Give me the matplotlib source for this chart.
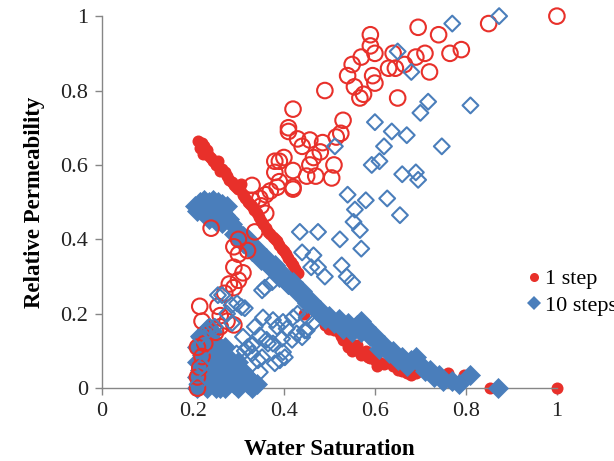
import matplotlib
matplotlib.use("Agg")
import matplotlib.pyplot as plt
from matplotlib.lines import Line2D

RED = "#e8302a"
BLUE = "#4a7ebb"

# 1 step, oil relative permeability (filled circles)
sw_1step_oil = [0.212, 0.215, 0.22, 0.222, 0.225, 0.23, 0.235, 0.24, 0.25, 0.255, 0.26, 0.27,
                0.275, 0.28, 0.29, 0.30, 0.305, 0.31, 0.32, 0.33, 0.34, 0.35, 0.36, 0.37,
                0.38, 0.39, 0.40, 0.41, 0.42, 0.43, 0.445, 0.49, 0.50, 0.52, 0.53, 0.54,
                0.55, 0.56, 0.57, 0.58, 0.59, 0.60, 0.61, 0.62, 0.64, 0.66, 0.67, 0.68,
                0.71, 0.74, 0.75, 0.76, 0.77, 0.795, 0.853, 1.0,
                0.218, 0.228, 0.245, 0.265, 0.285, 0.295, 0.315, 0.325, 0.335, 0.345,
                0.355, 0.365, 0.375, 0.385, 0.395, 0.405, 0.415, 0.425, 0.51, 0.525,
                0.545, 0.565, 0.585, 0.595, 0.605, 0.63, 0.65, 0.69, 0.73, 0.765]
kr_1step_oil = [0.665, 0.645, 0.66, 0.63, 0.65, 0.64, 0.625, 0.62, 0.60, 0.61, 0.585, 0.58,
                0.57, 0.56, 0.545, 0.535, 0.55, 0.52, 0.50, 0.49, 0.47, 0.45, 0.43, 0.415,
                0.40, 0.385, 0.37, 0.35, 0.33, 0.31, 0.20, 0.17, 0.16, 0.15, 0.13, 0.11,
                0.10, 0.115, 0.09, 0.10, 0.08, 0.075, 0.07, 0.065, 0.06, 0.045, 0.04, 0.035,
                0.05, 0.03, 0.02, 0.04, 0.015, 0.035, 0.0, 0.0,
                0.655, 0.635, 0.61, 0.59, 0.555, 0.54, 0.51, 0.495, 0.48, 0.46,
                0.44, 0.42, 0.405, 0.395, 0.375, 0.36, 0.34, 0.32, 0.155, 0.14,
                0.12, 0.10, 0.085, 0.09, 0.06, 0.07, 0.05, 0.04, 0.035, 0.025]

# 1 step, water relative permeability (open circles)
sw_1step_water = [0.21, 0.21, 0.215, 0.22, 0.226, 0.21, 0.25, 0.22, 0.26, 0.275, 0.29, 0.26,
                  0.215, 0.255, 0.27, 0.28, 0.29, 0.30, 0.31, 0.29, 0.30, 0.32, 0.29, 0.30,
                  0.336, 0.24, 0.347, 0.33, 0.36, 0.37, 0.385, 0.42, 0.33, 0.39, 0.42, 0.38,
                  0.42, 0.38, 0.39, 0.40, 0.45, 0.47, 0.457, 0.465, 0.505, 0.51, 0.48, 0.485,
                  0.515, 0.44, 0.457, 0.43, 0.41, 0.525, 0.41, 0.53, 0.42, 0.49, 0.555, 0.567,
                  0.575, 0.54, 0.595, 0.60, 0.55, 0.57, 0.59, 0.60, 0.59, 0.63, 0.645, 0.665,
                  0.64, 0.65, 0.69, 0.71, 0.72, 0.695, 0.74, 0.765, 0.79, 0.85, 1.0, 0.36, 0.35]
kr_1step_water = [0.0, 0.03, 0.055, 0.085, 0.12, 0.11, 0.15, 0.18, 0.195, 0.18, 0.17, 0.165,
                  0.22, 0.22, 0.255, 0.28, 0.27, 0.29, 0.31, 0.325, 0.36, 0.37, 0.38, 0.40,
                  0.42, 0.43, 0.51, 0.505, 0.52, 0.53, 0.54, 0.54, 0.545, 0.555, 0.535, 0.58,
                  0.585, 0.61, 0.61, 0.62, 0.57, 0.57, 0.60, 0.62, 0.565, 0.60, 0.635, 0.66,
                  0.675, 0.65, 0.667, 0.67, 0.69, 0.685, 0.70, 0.72, 0.75, 0.80, 0.81, 0.78,
                  0.79, 0.84, 0.84, 0.82, 0.87, 0.89, 0.92, 0.90, 0.95, 0.86, 0.86, 0.87,
                  0.90, 0.78, 0.89, 0.90, 0.85, 0.97, 0.95, 0.90, 0.91, 0.98, 1.0, 0.47, 0.49]

# 10 steps, oil relative permeability (filled diamonds)
sw_10step_oil = [0.205, 0.215, 0.225, 0.235, 0.245, 0.255, 0.265, 0.275, 0.21, 0.225, 0.24,
                 0.255, 0.27, 0.28, 0.235, 0.25, 0.265, 0.285, 0.30, 0.31, 0.32, 0.34, 0.36,
                 0.38, 0.40, 0.42, 0.44, 0.46, 0.48, 0.50, 0.52, 0.54, 0.56, 0.58, 0.60,
                 0.62, 0.64, 0.66, 0.68, 0.70, 0.72, 0.74, 0.33, 0.37, 0.41, 0.45, 0.49,
                 0.53, 0.57, 0.61, 0.65, 0.69, 0.75, 0.77, 0.785, 0.81, 0.87,
                 0.29, 0.31, 0.33, 0.35, 0.37, 0.39, 0.41, 0.43, 0.45, 0.47, 0.49, 0.51,
                 0.53, 0.55, 0.57, 0.59, 0.61, 0.63, 0.67, 0.71, 0.73,
                 0.21, 0.22, 0.23, 0.24, 0.25, 0.26, 0.27, 0.28, 0.29, 0.30, 0.31, 0.32,
                 0.33, 0.215, 0.23, 0.245, 0.26, 0.275, 0.29, 0.31, 0.22, 0.235, 0.25, 0.265,
                 0.28, 0.225, 0.24, 0.255, 0.215, 0.23, 0.245, 0.30, 0.32, 0.27,
                 0.21, 0.21, 0.21, 0.22, 0.24, 0.26, 0.28, 0.30, 0.25, 0.27, 0.29, 0.34,
                 0.22, 0.235, 0.26]
kr_10step_oil = [0.49, 0.50, 0.505, 0.50, 0.505, 0.50, 0.495, 0.49, 0.475, 0.47, 0.48,
                 0.475, 0.465, 0.455, 0.455, 0.45, 0.445, 0.44, 0.42, 0.41, 0.40, 0.375, 0.35,
                 0.33, 0.305, 0.285, 0.26, 0.235, 0.21, 0.195, 0.185, 0.175, 0.17, 0.165, 0.14,
                 0.115, 0.10, 0.085, 0.075, 0.065, 0.05, 0.035, 0.37, 0.325, 0.28, 0.23, 0.19,
                 0.165, 0.18, 0.12, 0.075, 0.085, 0.02, 0.02, 0.01, 0.035, 0.0,
                 0.415, 0.39, 0.37, 0.345, 0.325, 0.30, 0.28, 0.255, 0.235, 0.21, 0.185, 0.175,
                 0.16, 0.15, 0.15, 0.14, 0.105, 0.095, 0.06, 0.045, 0.03,
                 0.0, 0.02, 0.0, 0.03, 0.0, 0.02, 0.0, 0.03, 0.01, 0.0, 0.02, 0.01,
                 0.0, 0.05, 0.06, 0.05, 0.06, 0.05, 0.04, 0.045, 0.09, 0.10, 0.085, 0.09,
                 0.08, 0.12, 0.13, 0.115, 0.14, 0.16, 0.15, 0.07, 0.03, 0.11,
                 0.03, 0.07, 0.11, 0.04, 0.07, 0.035, 0.065, 0.035, 0.10, 0.075, 0.06, 0.01,
                 0.10, 0.025, 0.0]

# 10 steps, water relative permeability (open diamonds)
sw_10step_water = [0.873, 0.77, 0.65, 0.68, 0.717, 0.70, 0.81, 0.637, 0.67, 0.60, 0.62, 0.61,
                   0.593, 0.747, 0.66, 0.69, 0.695, 0.627, 0.58, 0.54, 0.512, 0.556, 0.655,
                   0.553, 0.567, 0.475, 0.435, 0.523, 0.57, 0.44, 0.465, 0.475, 0.527, 0.538,
                   0.55, 0.49, 0.46, 0.45, 0.45, 0.44, 0.358, 0.374, 0.352, 0.264, 0.255,
                   0.285, 0.297, 0.307, 0.314, 0.275, 0.286, 0.248, 0.233, 0.237, 0.215,
                   0.354, 0.376, 0.398, 0.42, 0.43, 0.385, 0.406, 0.428, 0.446, 0.464, 0.336,
                   0.347, 0.362, 0.31, 0.32, 0.33, 0.376, 0.396, 0.418, 0.398, 0.391, 0.343,
                   0.347, 0.296, 0.28, 0.352, 0.402, 0.38, 0.314, 0.33, 0.365,
                   0.21, 0.23, 0.25, 0.27, 0.29, 0.31, 0.33, 0.22, 0.24, 0.26]
kr_10step_water = [1.0, 0.98, 0.905, 0.85, 0.77, 0.74, 0.76, 0.69, 0.68, 0.715, 0.65, 0.61,
                   0.60, 0.65, 0.575, 0.58, 0.56, 0.51, 0.505, 0.52, 0.65, 0.48, 0.465,
                   0.447, 0.425, 0.42, 0.42, 0.40, 0.375, 0.365, 0.357, 0.325, 0.33, 0.30,
                   0.285, 0.30, 0.325, 0.19, 0.155, 0.137, 0.27, 0.285, 0.263, 0.25, 0.25,
                   0.223, 0.228, 0.218, 0.215, 0.20, 0.175, 0.165, 0.155, 0.165, 0.137,
                   0.19, 0.183, 0.178, 0.19, 0.20, 0.165, 0.16, 0.147, 0.155, 0.175, 0.165,
                   0.142, 0.13, 0.138, 0.11, 0.093, 0.12, 0.133, 0.13, 0.097, 0.075, 0.075,
                   0.043, 0.093, 0.067, 0.083, 0.083, 0.067, 0.10, 0.115, 0.12,
                   0.01, 0.03, 0.02, 0.04, 0.02, 0.03, 0.01, 0.06, 0.08, 0.10]

ticks = [0, 0.2, 0.4, 0.6, 0.8, 1]
tick_labels = ["0", "0.2", "0.4", "0.6", "0.8", "1"]

plt.rcParams["font.family"] = ["Liberation Serif", "DejaVu Serif"]

fig = plt.figure(figsize=(6.14, 4.61), dpi=100)
ax = fig.add_axes([0.166, 0.158, 0.741, 0.807])

ax.scatter(sw_1step_oil, kr_1step_oil, s=75, marker="o", color=RED,
           linewidths=0, clip_on=False, zorder=2)
ax.scatter(sw_10step_oil, kr_10step_oil, s=115, marker="D", color=BLUE,
           linewidths=0, clip_on=False, zorder=3)
ax.scatter(sw_1step_water, kr_1step_water, s=125, marker="o", facecolors="none",
           edgecolors=RED, linewidths=1.5, clip_on=False, zorder=4)
ax.scatter(sw_10step_water, kr_10step_water, s=65, marker="D", facecolors="none",
           edgecolors=BLUE, linewidths=1.5, clip_on=False, zorder=5)

ax.set_xlim(0, 1)
ax.set_ylim(0, 1)
ax.set_xticks(ticks)
ax.set_xticklabels(tick_labels)
ax.set_yticks(ticks)
ax.set_yticklabels(tick_labels)

for side in ("top", "right"):
    ax.spines[side].set_visible(False)
for side in ("left", "bottom"):
    ax.spines[side].set_color("#868686")
    ax.spines[side].set_linewidth(1.0)
ax.tick_params(direction="out", length=5, width=1.0, color="#868686",
               labelsize=16, labelcolor="#222222", pad=5)

ax.set_xlabel("Water Saturation", fontsize=16.5, fontweight="bold", labelpad=13)
ax.set_ylabel("Relative Permeability", fontsize=16.5, fontweight="bold", labelpad=11)

handles = [
    Line2D([], [], linestyle="none", marker="o", markersize=6.5, color=RED,
           markeredgewidth=0),
    Line2D([], [], linestyle="none", marker="D", markersize=7, color=BLUE,
           markeredgewidth=0),
]
fig.legend(handles, ["1 step", "10 steps"], loc="center left",
           bbox_to_anchor=(0.843, 0.366), frameon=False, fontsize=16,
           handlelength=0.5, handletextpad=0.25, labelspacing=0.25, borderpad=0)

fig.savefig("out.png", dpi=100)
